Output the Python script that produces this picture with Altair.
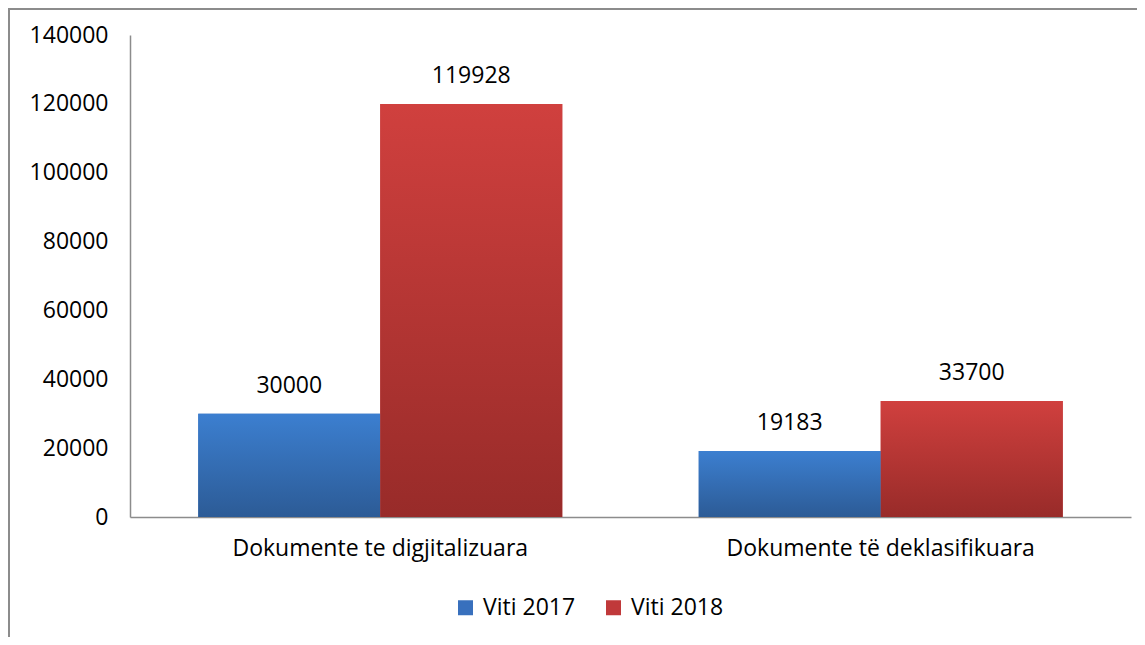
import altair as alt
import pandas as pd

categories = ["Dokumente te digjitalizuara", "Dokumente të deklasifikuara"]
series = ["Viti 2017", "Viti 2018"]
values_2017 = [30000, 19183]
values_2018 = [119928, 33700]
y_ticks = [0, 20000, 40000, 60000, 80000, 100000, 120000, 140000]

rows = []
for c, v in zip(categories, values_2017):
    rows.append({"category": c, "series": series[0], "value": v})
for c, v in zip(categories, values_2018):
    rows.append({"category": c, "series": series[1], "value": v})
df = pd.DataFrame(rows)

FONT = "Open Sans"
BLUE = "#3870bd"
RED = "#c0393a"

blue_grad = alt.Gradient(gradient="linear", x1=0, y1=0, x2=0, y2=1,
                         stops=[alt.GradientStop(color="#3c7fd0", offset=0),
                                alt.GradientStop(color="#2c5b96", offset=1)])
red_grad = alt.Gradient(gradient="linear", x1=0, y1=0, x2=0, y2=1,
                        stops=[alt.GradientStop(color="#d0403e", offset=0),
                               alt.GradientStop(color="#982b29", offset=1)])

base = alt.Chart(df).encode(
    x=alt.X("category:N", sort=categories, title=None,
            scale=alt.Scale(paddingInner=0.2727, paddingOuter=0.1364),
            axis=alt.Axis(labelAngle=0, labelFontSize=23, labelFont=FONT, labelColor="#000000",
                          labelLimit=0, ticks=False, domainColor="#8c8c8c", domainWidth=1.5,
                          labelPadding=20)),
    xOffset=alt.XOffset("series:N", sort=series, scale=alt.Scale(paddingInner=0, paddingOuter=0)),
    y=alt.Y("value:Q", title=None,
            scale=alt.Scale(domain=[0, 140000], nice=False),
            axis=alt.Axis(values=y_ticks, format="d", labelFontSize=23, labelFont=FONT,
                          labelColor="#000000", ticks=False, grid=False, domainColor="#8c8c8c",
                          domainWidth=1.5, labelPadding=22)),
)

solid = base.mark_bar().encode(
    color=alt.Color("series:N", sort=series,
                    scale=alt.Scale(domain=series, range=[BLUE, RED]),
                    legend=alt.Legend(title=None, orient="none", direction="horizontal",
                                      legendX=324, legendY=561, symbolType="square",
                                      symbolSize=225, symbolStrokeWidth=0,
                                      labelFontSize=23, labelFont=FONT, labelColor="#000000",
                                      labelOffset=6, columnPadding=26))
)

g2017 = base.mark_bar(color=blue_grad).transform_filter(alt.datum.series == series[0])
g2018 = base.mark_bar(color=red_grad).transform_filter(alt.datum.series == series[1])

labels = base.mark_text(baseline="bottom", dy=-16, fontSize=23, font=FONT, color="#000000").encode(
    text=alt.Text("value:Q", format="d")
)

frame_df = pd.DataFrame({"k": [0]})
frame_top = alt.Chart(frame_df).mark_rule(color="#8c8c8c", strokeWidth=2).encode(
    x=alt.value(-122), x2=alt.value(1200), y=alt.value(-26), y2=alt.value(-26)
)
frame_left = alt.Chart(frame_df).mark_rule(color="#8c8c8c", strokeWidth=2).encode(
    x=alt.value(-121), x2=alt.value(-121), y=alt.value(-27), y2=alt.value(700)
)

chart = alt.layer(frame_top, frame_left, solid, g2017, g2018, labels).properties(
    width=1001, height=482,
    autosize=alt.AutoSizeParams(type="none"),
    padding={"left": 122, "top": 27, "right": 6, "bottom": 120},
).configure(font=FONT).configure_view(stroke=None)

chart.save("out.html", embed_options={"renderer": "svg", "actions": False})
